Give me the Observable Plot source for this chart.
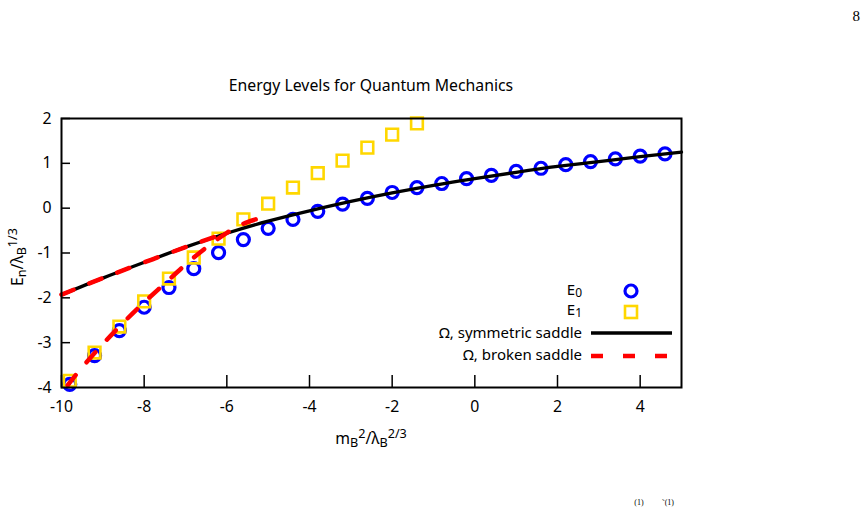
<!DOCTYPE html>
<html><head><meta charset="utf-8">
<script src="https://cdn.jsdelivr.net/npm/d3@7"></script>
<script src="https://cdn.jsdelivr.net/npm/@observablehq/plot@0.6"></script>
<style>body{margin:0;background:#fff;overflow:hidden}</style>
</head><body><div id="chart"></div>
<script>
// ---- data ----
const title = "Energy Levels for Quantum Mechanics";
const e0X = [-9.8,-9.2,-8.6,-8.0,-7.4,-6.8,-6.2,-5.6,-5.0,-4.4,-3.8,-3.2,-2.6,-2.0,-1.4,-0.8,-0.2,0.4,1.0,1.6,2.2,2.8,3.4,4.0,4.6];
const e0Y = [-3.93,-3.29,-2.73,-2.21,-1.77,-1.35,-0.99,-0.70,-0.45,-0.25,-0.07,0.09,0.22,0.35,0.46,0.55,0.66,0.73,0.82,0.89,0.97,1.04,1.10,1.16,1.21];
const e1X = [-9.8,-9.2,-8.6,-8.0,-7.4,-6.8,-6.2,-5.6,-5.0,-4.4,-3.8,-3.2,-2.6,-2.0,-1.4];
const e1Y = [-3.85,-3.22,-2.64,-2.08,-1.57,-1.10,-0.68,-0.25,0.10,0.46,0.78,1.06,1.35,1.64,1.89];
const symX = [-10,-9,-8,-7,-6,-5,-4,-3,-2,-1,0,1,2,3,4,5];
const symY = [-1.93,-1.56,-1.21,-0.87,-0.56,-0.29,-0.06,0.15,0.34,0.51,0.66,0.80,0.93,1.04,1.15,1.25];
const brokenUpX = [-10,-9,-8,-7,-6.1];
const brokenUpY = [-1.93,-1.56,-1.21,-0.87,-0.58];
const brokenLowX = [-9.85,-9.5,-9.0,-8.5,-8.0,-7.5,-7.0,-6.5,-6.0,-5.5,-4.95];
const brokenLowY = [-3.95,-3.55,-3.03,-2.55,-2.10,-1.68,-1.26,-0.88,-0.55,-0.31,-0.17];
const xTicks = [-10,-8,-6,-4,-2,0,2,4];
const yTicks = [-4,-3,-2,-1,0,1,2];
const legendLabels = ["E|0","E|1","Ω, symmetric saddle","Ω, broken saddle"];

// ---- build ----
const W = 867, H = 507, mL = 61, mR = 186, mT = 118, mB = 120;
const innerW = W - mL - mR, innerH = H - mT - mB;
const zip = (a, b) => a.map((x, i) => ({x, y: b[i]}));
const FONT = "Noto Sans";
const FS = 15.8;
const dash = "13,17";

const svg = Plot.plot({
  width: W, height: H,
  marginLeft: mL, marginRight: mR, marginTop: mT, marginBottom: mB,
  style: {fontFamily: FONT, fontSize: FS + "px", color: "black", background: "white"},
  x: {domain: [-10, 5]},
  y: {domain: [-4, 2]},
  marks: [
    Plot.tickX(xTicks, {x: d => d, insetTop: innerH - 12, stroke: "black", strokeWidth: 1.5}),
    Plot.tickY(yTicks, {y: d => d, insetRight: innerW - 9, stroke: "black", strokeWidth: 1.5}),
    Plot.axisX(xTicks, {tickSize: 0, tickPadding: 13, fontSize: FS, label: null, tickFormat: d => String(d)}),
    Plot.axisY(yTicks, {tickSize: 0, tickPadding: 10, fontSize: FS, label: null, tickFormat: d => String(d)}),
    Plot.dot(zip(e0X, e0Y), {x: "x", y: "y", symbol: "circle", r: 6, stroke: "#0000ff", strokeWidth: 3.2, fill: "none"}),
    Plot.dot(zip(e1X, e1Y), {x: "x", y: "y", symbol: "square", r: 6.6, stroke: "#ffd700", strokeWidth: 2.6, fill: "none"}),
    Plot.line(zip(symX, symY), {x: "x", y: "y", stroke: "black", strokeWidth: 3.3, curve: "natural"}),
    Plot.line(zip(brokenUpX, brokenUpY), {x: "x", y: "y", stroke: "#ff0000", strokeWidth: 4.5, strokeDasharray: dash, curve: "natural"}),
    Plot.line(zip(brokenLowX, brokenLowY), {x: "x", y: "y", stroke: "#ff0000", strokeWidth: 4.5, strokeDasharray: dash, curve: "natural"}),
    Plot.frame({stroke: "black", strokeWidth: 2})
  ]
});

const s = d3.select(svg);
const g = s.append("g").attr("font-family", FONT).attr("fill", "black");

// title
g.append("text").attr("x", (mL + W - mR) / 2).attr("y", 91).attr("text-anchor", "middle")
  .attr("font-size", FS).text(title);

function rich(sel, parts, subShift = "-25%") {
  parts.forEach(([t, m]) => {
    const ts = sel.append("tspan").text(t);
    if (m === "sub") ts.attr("baseline-shift", subShift).attr("font-size", "80%");
    if (m === "sup") ts.attr("baseline-shift", "45%").attr("font-size", "80%");
  });
}
// x label
const xl = g.append("text").attr("x", (mL + W - mR) / 2).attr("y", 444).attr("text-anchor", "middle").attr("font-size", FS);
rich(xl, [["m"], ["B", "sub"], ["2", "sup"], ["/λ"], ["B", "sub"], ["2/3", "sup"]]);
// y label
const yl = g.append("text").attr("transform", "translate(23,257) rotate(-90)").attr("text-anchor", "middle").attr("font-size", FS);
rich(yl, [["E"], ["n", "sub"], ["/λ"], ["B", "sub"], ["1/3", "sup"]]);

// legend
const lx = 582, rows = [295, 315, 338, 360];
legendLabels.forEach((lab, i) => {
  const t = g.append("text").attr("x", lx).attr("y", rows[i]).attr("text-anchor", "end").attr("font-size", 15);
  const [a, b] = lab.split("|");
  if (b !== undefined) rich(t, [[a], [b, "sub"]], "-18%"); else t.text(a);
});
s.append("circle").attr("cx", 631).attr("cy", 291).attr("r", 6).attr("fill", "none").attr("stroke", "#0000ff").attr("stroke-width", 3.2);
s.append("rect").attr("x", 625).attr("y", 306).attr("width", 12).attr("height", 12).attr("fill", "none").attr("stroke", "#ffd700").attr("stroke-width", 2.6);
s.append("line").attr("x1", 591).attr("x2", 672).attr("y1", 333).attr("y2", 333).attr("stroke", "black").attr("stroke-width", 3.3);
s.append("line").attr("x1", 591).attr("x2", 672).attr("y1", 356).attr("y2", 356).attr("stroke", "#ff0000").attr("stroke-width", 4.5).attr("stroke-dasharray", "12,20");

// page furniture
s.append("text").attr("x", 860).attr("y", 21).attr("text-anchor", "end").attr("font-family", "Liberation Serif").attr("font-size", 15).text("8");
s.append("text").attr("x", 639).attr("y", 505).attr("font-family", "Liberation Serif").attr("font-size", 8).text("(1)");
s.append("text").attr("x", 668).attr("y", 505).attr("font-family", "Liberation Serif").attr("font-size", 8).text("˜(1)");

document.getElementById("chart").appendChild(svg);
</script>
</body></html>
